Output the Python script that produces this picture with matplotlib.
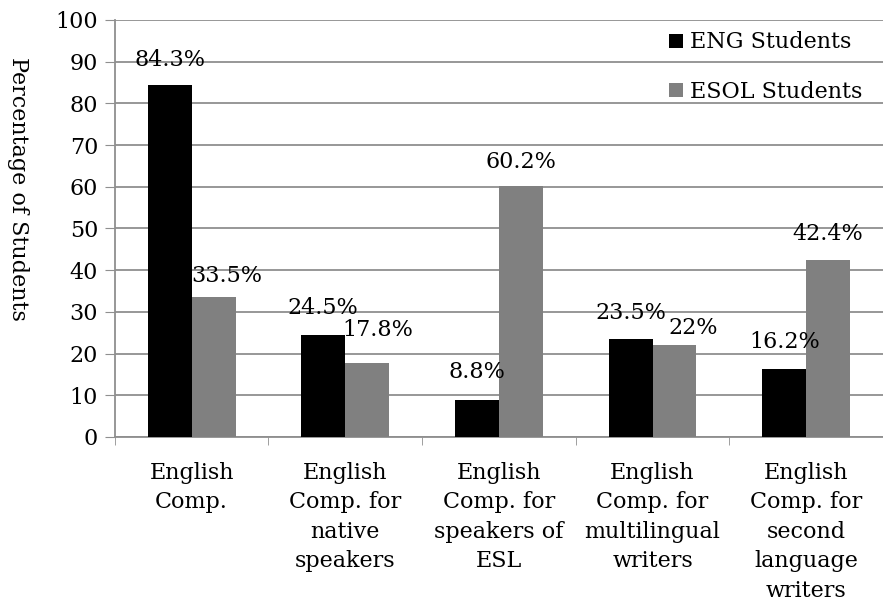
import matplotlib
matplotlib.use('Agg')
import numpy as np
import matplotlib.pyplot as plt

# Data
categories = [
    'English\nComp.',
    'English\nComp. for\nnative\nspeakers',
    'English\nComp. for\nspeakers of\nESL',
    'English\nComp. for\nmultilingual\nwriters',
    'English\nComp. for\nsecond\nlanguage\nwriters',
]
eng_values = [84.3, 24.5, 8.8, 23.5, 16.2]
esol_values = [33.5, 17.8, 60.2, 22, 42.4]
eng_labels = ['84.3%', '24.5%', '8.8%', '23.5%', '16.2%']
esol_labels = ['33.5%', '17.8%', '60.2%', '22%', '42.4%']
series_names = ['ENG Students', 'ESOL Students']
y_ticks = [0, 10, 20, 30, 40, 50, 60, 70, 80, 90, 100]

# label nudges in pixels (dx, dy above bar top to text centre)
eng_nudge = [(0, 25), (0, 27), (0, 28), (0, 26), (0, 27)]
esol_nudge = [(13, 21), (11, 33), (0, 24), (19, 17), (0, 26)]

plt.rcParams['font.family'] = ['DejaVu Serif']
FS = 16
GRID = '#8f8f8f'

fig = plt.figure(figsize=(8.83, 6.04), dpi=100)
ax = fig.add_axes([0.130, 0.2765, 0.870, 0.6905])

x = np.arange(len(categories)) + 0.5
w = 0.286
b1 = ax.bar(x - w / 2, eng_values, w, color='#000000', label=series_names[0], zorder=3)
b2 = ax.bar(x + w / 2, esol_values, w, color='#808080', label=series_names[1], zorder=3)

px = 72.0 / fig.dpi
for bars, labels, nudges in [(b1, eng_labels, eng_nudge), (b2, esol_labels, esol_nudge)]:
    for rect, lab, (dx, dy) in zip(bars, labels, nudges):
        ax.annotate(lab, (rect.get_x() + rect.get_width() / 2, rect.get_height()),
                    xytext=(dx * px, dy * px), textcoords='offset points',
                    ha='center', va='center', fontsize=FS, zorder=4)

ax.set_xlim(0, len(categories))
ax.set_ylim(0, 100)
ax.set_yticks(y_ticks)
ax.set_yticklabels([str(t) for t in y_ticks], fontsize=FS)
ax.yaxis.grid(True, color=GRID, linewidth=1.3, zorder=0)
ax.set_axisbelow(True)

ax.set_xticks(x)
ax.set_xticklabels(categories, fontsize=FS, linespacing=1.44, va='top')
ax.set_xticks(np.arange(len(categories) + 1), minor=True)
ax.tick_params(axis='x', which='major', length=0, pad=18)
ax.tick_params(axis='x', which='minor', length=6, color=GRID, direction='out')
ax.tick_params(axis='y', length=7, color=GRID, direction='out', pad=5)

for side in ['top', 'right']:
    ax.spines[side].set_visible(False)
for side in ['left', 'bottom']:
    ax.spines[side].set_color(GRID)
    ax.spines[side].set_linewidth(1.3)

ax.set_ylabel('Percentage of Students', fontsize=FS, rotation=270, labelpad=22)
ax.yaxis.set_label_coords(-0.140, 0.595)

fig.legend(handles=[b1, b2], loc='upper left', bbox_to_anchor=(0.758, 0.948),
           frameon=False, fontsize=FS, handlelength=0.6, handleheight=0.6,
           handletextpad=0.35, labelspacing=1.25, borderpad=0, borderaxespad=0)

fig.savefig('out.png', dpi=100, facecolor='white')
